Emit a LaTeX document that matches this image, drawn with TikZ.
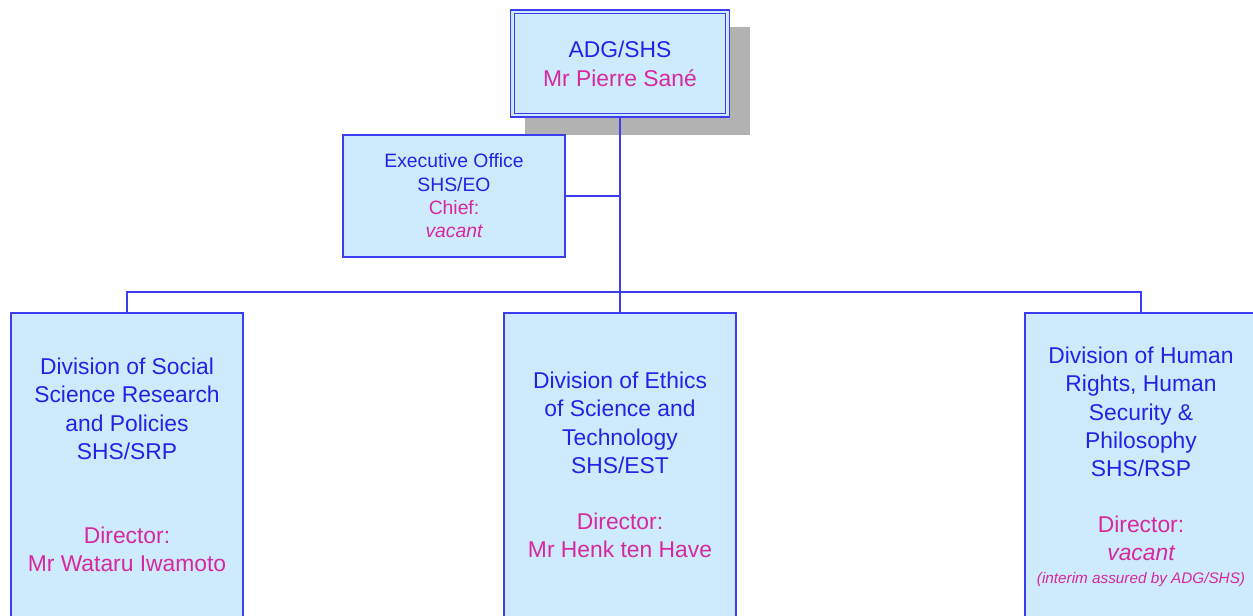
\documentclass[tikz,border=0pt]{standalone}
\usepackage{fontspec}
\setmainfont{Liberation Sans}
\usetikzlibrary{shadows}
\definecolor{unitblue}{RGB}{35,35,232}
\definecolor{unitpink}{RGB}{214,40,160}
\definecolor{unitline}{RGB}{60,60,240}
\definecolor{unitfill}{RGB}{205,235,252}
\definecolor{shadegray}{RGB}{178,178,178}
\tikzset{
  unitbox/.style={draw=unitline, fill=unitfill, line width=1pt, align=center,
    inner sep=0pt, text=unitblue},
  bigtext/.style={font=\fontsize{13}{16}\selectfont},
  link/.style={draw=unitline, line width=1.2pt},
}
\newcommand{\who}[1]{\textcolor{unitpink}{#1}}

\begin{document}
\begin{tikzpicture}[x=0.02cm, y=-0.02cm]
  \useasboundingbox (0,0) rectangle (1253,615);
  % Head of the sector
  \node[unitbox, double=unitfill, double distance=1.3pt, line width=0.9pt,
    minimum width=4.3cm, minimum height=2.07cm,
    font=\fontsize{13}{16.5}\selectfont,
    drop shadow={shadow xshift=0.34cm, shadow yshift=-0.34cm, shadow scale=1.045,
      fill=shadegray, opacity=1}]
    (adg) at (620,63.5) {ADG/SHS\\\who{Mr Pierre Sané}};
  % Executive office
  \node[unitbox, minimum width=4.44cm, minimum height=2.44cm,
    font=\fontsize{11}{13.3}\selectfont]
    (eo) at (454,196) {Executive Office\\SHS/EO\\\who{Chief:}\\\who{\itshape vacant}};
  % Divisions
  \node[unitbox, bigtext, minimum width=4.64cm, minimum height=6.08cm]
    (srp) at (127,465) {Division of Social\\Science Research\\and Policies\\SHS/SRP\\[32pt]%
    \who{Director:}\\\who{Mr Wataru Iwamoto}};
  \node[unitbox, bigtext, minimum width=4.64cm, minimum height=6.08cm]
    (est) at (620,465) {Division of Ethics\\of Science and\\Technology\\SHS/EST\\[16pt]%
    \who{Director:}\\\who{Mr Henk ten Have}};
  \node[unitbox, bigtext, minimum width=4.64cm, minimum height=6.16cm]
    (rsp) at (1141,467) {Division of Human\\Rights, Human\\Security \&\\Philosophy\\SHS/RSP\\[16pt]%
    \who{Director:}\\\who{\itshape vacant}\\[-3pt]%
    \who{\fontsize{8.7}{10}\selectfont\itshape (interim assured by ADG/SHS)}};
  % Lines
  \coordinate (bus) at (620,292);
  \draw[link] (adg.south) -- (bus);
  \draw[link] (eo.east) -- (eo.east -| adg.south);
  \draw[link] (srp.north) |- (bus) -| (rsp.north);
  \draw[link] (bus) -- (est.north);
\end{tikzpicture}
\end{document}
